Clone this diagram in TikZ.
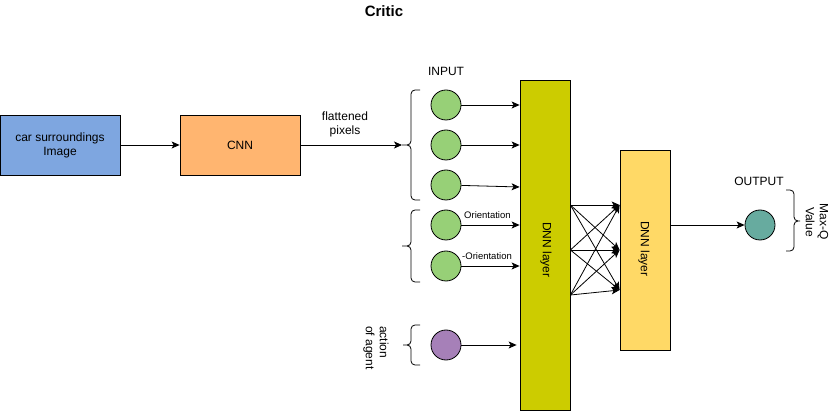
\documentclass[tikz,border=0pt]{standalone}
\usepackage{fontspec}
\setmainfont{Liberation Sans}
\usetikzlibrary{arrows.meta}
\definecolor{cblue}{HTML}{7EA6E0}
\definecolor{corange}{HTML}{FFB570}
\definecolor{cgreen}{HTML}{97D077}
\definecolor{cpurple}{HTML}{A680B8}
\definecolor{cteal}{HTML}{67AB9F}
\definecolor{colive}{HTML}{CCCC00}
\definecolor{cyellow}{HTML}{FFD966}
\begin{document}
\begin{tikzpicture}[x=1pt,y=-1pt,
  box/.style={draw=black, line width=0.8pt, minimum width=120pt, minimum height=60pt, inner sep=0pt, font=\fontsize{12}{14}\selectfont, align=center},
  layer/.style={draw=black, line width=0.8pt, minimum width=50pt, inner sep=0pt},
  neuron/.style={circle, draw=black, line width=0.8pt, minimum size=30pt, inner sep=0pt},
  arr/.style={-{Stealth[length=8pt,width=7pt,inset=2pt]}, line width=0.8pt},
  bracket/.style={rounded corners=4pt, line width=0.8pt},
  lbl/.style={font=\fontsize{12}{14}\selectfont, align=center, inner sep=0pt},
  small/.style={font=\fontsize{9.5}{11}\selectfont, inner sep=0pt}]
\useasboundingbox (0,0) rectangle (835,411);

% title
\node[font=\fontsize{15}{18}\selectfont\bfseries, inner sep=0pt] (title) at (384,11) {Critic};

% left boxes
\node[box, fill=cblue] (img) at (60,145) {car surroundings\\Image};
\node[box, fill=corange] (cnn) at (240,145) {CNN};
\node[lbl] (flat) at (345,124) {flattened\\pixels};
\coordinate (b1) at (402,145);

% layers
\node[layer, fill=colive, minimum height=330pt] (dnn1) at (545,245) {};
\node[layer, fill=cyellow, minimum height=200pt] (dnn2) at (645,250) {};
\node[lbl, rotate=-90] (t1) at (546,250) {DNN layer};
\node[lbl, rotate=-90] (t2) at (644,249) {DNN layer};

% inputs
\node[lbl] (inp) at (446,71) {INPUT};
\node[neuron, fill=cgreen] (c1) at (446,105) {};
\node[neuron, fill=cgreen] (c2) at (446,145) {};
\node[neuron, fill=cgreen] (c3) at (446,185) {};
\node[neuron, fill=cgreen] (c4) at (446,225) {};
\node[neuron, fill=cgreen] (c5) at (446,266) {};
\node[neuron, fill=cpurple] (ca) at (446,345) {};
\node[small, anchor=west] (o1) at (464,215) {Orientation};
\node[small, anchor=west] (o2) at (462,256) {-Orientation};
\node[lbl, rotate=-90, align=left] (act) at (376,348) {action\\of agent};

% output
\node[neuron, fill=cteal] (out) at (760,225) {};
\node[lbl] (outl) at (759,181) {OUTPUT};
\node[lbl, rotate=-90] (maxq) at (817,222) {Max-Q\\Value};

% brackets
\draw[bracket] (420,90) -- (411,90) -- (411,145) -- (402,145) (402,145) -- (411,145) -- (411,200) -- (420,200);
\draw[bracket] (420,210) -- (411,210) -- (411,246) -- (402,246) (402,246) -- (411,246) -- (411,282) -- (420,282);
\draw[bracket] (420,325) -- (411,325) -- (411,345) -- (403,345) (403,345) -- (411,345) -- (411,365) -- (420,365);
\draw[bracket] (786,190) -- (794,190) -- (794,221) -- (800,221) (800,221) -- (794,221) -- (794,251) -- (786,251);

% connectors
\draw[arr] (img) -- (cnn);
\draw[arr] (cnn) -- (b1);
\draw[arr] (c1) -- (c1 -| dnn1.west);
\draw[arr] (c2) -- (c2 -| dnn1.west);
\draw[arr] (c3) -- ([yshift=-2pt]c3 -| dnn1.west);
\draw[arr] (c4) -- (c4 -| dnn1.west);
\draw[arr] (c5) -- (c5 -| dnn1.west);
\draw[arr] (ca) -- ([xshift=-3pt]ca -| dnn1.west);
\foreach \a in {205,250,295}
  \foreach \b in {205,250,290}
    \draw[arr] (dnn1.east |- 0,\a) -- (dnn2.west |- 0,\b);
\draw[arr] (dnn2.east |- out) -- (out);
\end{tikzpicture}
\end{document}
